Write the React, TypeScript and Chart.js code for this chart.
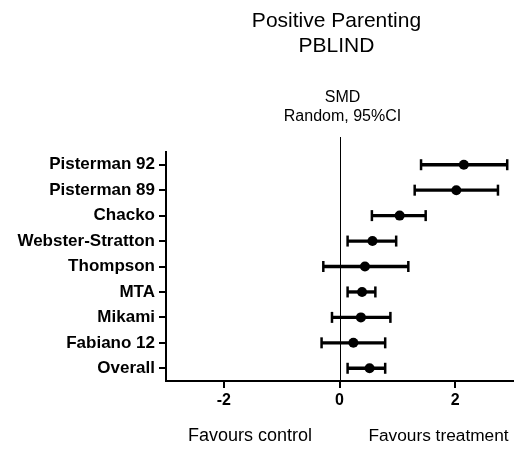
import React, { useEffect, useRef } from "react";
import { Chart, registerables } from "chart.js";

Chart.register(...registerables);

const studies = [
  "Pisterman 92",
  "Pisterman 89",
  "Chacko",
  "Webster-Stratton",
  "Thompson",
  "MTA",
  "Mikami",
  "Fabiano 12",
  "Overall",
];
const smd = [2.15, 2.02, 1.04, 0.57, 0.44, 0.39, 0.37, 0.24, 0.52];
const ciLow = [1.41, 1.3, 0.56, 0.14, -0.28, 0.14, -0.13, -0.31, 0.14];
const ciHigh = [2.9, 2.74, 1.49, 0.98, 1.19, 0.62, 0.88, 0.79, 0.79];
const xTicks = [-2, 0, 2];
const titleLines = ["Positive Parenting", "PBLIND"];
const subtitleLines = ["SMD", "Random, 95%CI"];
const leftNote = "Favours control";
const rightNote = "Favours treatment";

const FONT = '"Liberation Sans", Arial, Helvetica, sans-serif';

const textPlugin = {
  id: "forestText",
  afterDraw(chart: any) {
    const { ctx, chartArea } = chart;
    const xs = chart.scales.x;
    const zero = xs.getPixelForValue(0);
    ctx.save();
    ctx.fillStyle = "#000";
    ctx.textAlign = "center";
    ctx.textBaseline = "alphabetic";
    const cx = (chartArea.left + chartArea.right) / 2 - 3;
    ctx.font = `21px ${FONT}`;
    ctx.fillText(titleLines[0], cx, 27);
    ctx.fillText(titleLines[1], cx, 52);
    ctx.font = `16px ${FONT}`;
    ctx.fillText(subtitleLines[0], zero + 3, 102);
    ctx.fillText(subtitleLines[1], zero + 3, 121);
    ctx.font = `18px ${FONT}`;
    ctx.fillText(leftNote, 250, 441);
    ctx.font = `17.3px ${FONT}`;
    ctx.fillText(rightNote, 438.5, 441);
    ctx.restore();
  },
  beforeDatasetsDraw(chart: any) {
    const { ctx, chartArea } = chart;
    const zero = chart.scales.x.getPixelForValue(0);
    ctx.save();
    ctx.strokeStyle = "#000";
    ctx.lineWidth = 1;
    ctx.beginPath();
    ctx.moveTo(Math.round(zero) + 0.5, chartArea.top - 15);
    ctx.lineTo(Math.round(zero) + 0.5, chartArea.bottom);
    ctx.stroke();
    ctx.restore();
  },
};

export default function App() {
  const ref = useRef<HTMLCanvasElement>(null);
  useEffect(() => {
    document.body.style.margin = "0";
    const canvas = ref.current;
    if (!canvas) return;
    const chart = new Chart(canvas, {
      type: "bar",
      data: {
        labels: studies,
        datasets: [
          {
            type: "scatter",
            label: "SMD",
            data: studies.map((s, i) => ({ x: smd[i], y: s })),
            pointRadius: 5,
            pointStyle: "circle",
            backgroundColor: "#000",
            borderColor: "#000",
            borderWidth: 0,
            showLine: false,
            indexAxis: "y",
            xAxisID: "x",
            yAxisID: "y",
          } as any,
          {
            type: "scatter",
            label: "caps",
            data: [
              ...studies.map((s, i) => ({ x: ciLow[i], y: s })),
              ...studies.map((s, i) => ({ x: ciHigh[i], y: s })),
            ],
            pointStyle: "line",
            rotation: 90,
            pointRadius: 5.5,
            borderWidth: 2.5,
            borderColor: "#000",
            showLine: false,
            indexAxis: "y",
            xAxisID: "x",
            yAxisID: "y",
          } as any,
          {
            type: "bar",
            label: "CI",
            data: studies.map((_, i) => [ciLow[i], ciHigh[i]]),
            backgroundColor: "#000",
            borderWidth: 0,
            barThickness: 2.7,
            xAxisID: "x",
            yAxisID: "y",
          } as any,
        ],
      },
      options: {
        indexAxis: "y",
        animation: false,
        responsive: false,
        events: [],
        layout: {
          autoPadding: false,
          padding: { top: 152, right: 5, bottom: 0, left: 0 },
        },
        plugins: {
          legend: { display: false },
          tooltip: { enabled: false },
          title: { display: false },
        },
        scales: {
          x: {
            type: "linear",
            min: -3,
            max: 3,
            afterBuildTicks: (scale: any) => {
              scale.ticks = xTicks.map((v) => ({ value: v }));
            },
            afterFit: (scale: any) => {
              scale.height = 68;
              scale.paddingLeft = 0;
              scale.paddingRight = 0;
            },
            grid: {
              drawOnChartArea: false,
              drawTicks: true,
              tickLength: 7,
              color: "#000",
              lineWidth: 2,
            },
            border: { display: true, color: "#000", width: 2 },
            ticks: {
              color: "#000",
              font: { family: FONT, size: 16, weight: "bold" },
              padding: 3,
              callback: (v: any) => String(v),
            },
          },
          y: {
            type: "category",
            offset: true,
            afterFit: (scale: any) => {
              scale.width = 166;
              scale.paddingTop = 0;
              scale.paddingBottom = 0;
            },
            grid: {
              offset: false,
              drawOnChartArea: false,
              drawTicks: true,
              tickLength: 7,
              color: "#000",
              lineWidth: 2,
            },
            border: { display: true, color: "#000", width: 2 },
            ticks: {
              color: "#000",
              font: { family: FONT, size: 17, weight: "bold" },
              padding: 4,
              autoSkip: false,
            },
          },
        },
      } as any,
      plugins: [textPlugin],
    });
    return () => chart.destroy();
  }, []);
  return (
    <div style={{ width: 518, height: 449 }}>
      <canvas ref={ref} width={518} height={449} style={{ display: "block" }} />
    </div>
  );
}
